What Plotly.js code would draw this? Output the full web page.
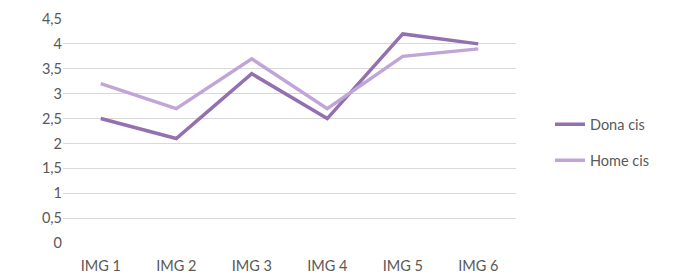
<!DOCTYPE html>
<html>
<head>
<meta charset="utf-8">
<script src="https://cdn.plot.ly/plotly-3.0.1.min.js"></script>
<style>html,body{margin:0;padding:0;background:#fff;}#chart{width:676px;height:275px;}</style>
</head>
<body>
<div id="chart"></div>
<script>
const categories = ["IMG 1", "IMG 2", "IMG 3", "IMG 4", "IMG 5", "IMG 6"];
const donaCis = [2.5, 2.1, 3.4, 2.5, 4.2, 4.0];
const homeCis = [3.2, 2.7, 3.7, 2.7, 3.75, 3.9];
const yTickVals = [0, 0.5, 1, 1.5, 2, 2.5, 3, 3.5, 4, 4.5];
const yTickText = ["0", "0,5", "1", "1,5", "2", "2,5", "3", "3,5", "4", "4,5"];

const font = "Lato, 'Open Sans', sans-serif";
const fsize = 14.5;
const traces = [
  {x: categories, y: donaCis, name: "Dona cis", type: "scatter", mode: "lines",
   line: {color: "#9370B0", width: 3.5}, legendgroup: "a"},
  {x: categories, y: homeCis, name: "Home cis", type: "scatter", mode: "lines",
   line: {color: "#C0A5D8", width: 3.5}, legendgroup: "b"}
];
const layout = {
  width: 676, height: 275,
  margin: {l: 63, r: 160, t: 19, b: 32},
  paper_bgcolor: "#fff", plot_bgcolor: "#fff",
  font: {family: font, size: fsize, color: "#595959"},
  showlegend: true,
  legend: {x: 1.075, xanchor: "left", y: 0.449, yanchor: "middle",
           font: {family: font, size: fsize, color: "#595959"},
           tracegroupgap: 14, bgcolor: "rgba(0,0,0,0)"},
  xaxis: {type: "category", showgrid: false, zeroline: false, showline: false,
          ticks: "", ticklen: 0, ticklabelstandoff: 12, tickfont: {family: font, size: fsize, color: "#595959"},
          range: [-0.5, 5.5]},
  yaxis: {range: [0, 4.5], tickvals: yTickVals, ticktext: yTickText,
          showgrid: true, gridcolor: "#D9D9D9", gridwidth: 1, zeroline: false,
          showline: false, ticks: "", ticklen: 0, ticklabelstandoff: 0,
          tickfont: {family: font, size: fsize, color: "#595959"}}
};
Plotly.newPlot("chart", traces, layout, {staticPlot: true, displayModeBar: false});
</script>
</body>
</html>
